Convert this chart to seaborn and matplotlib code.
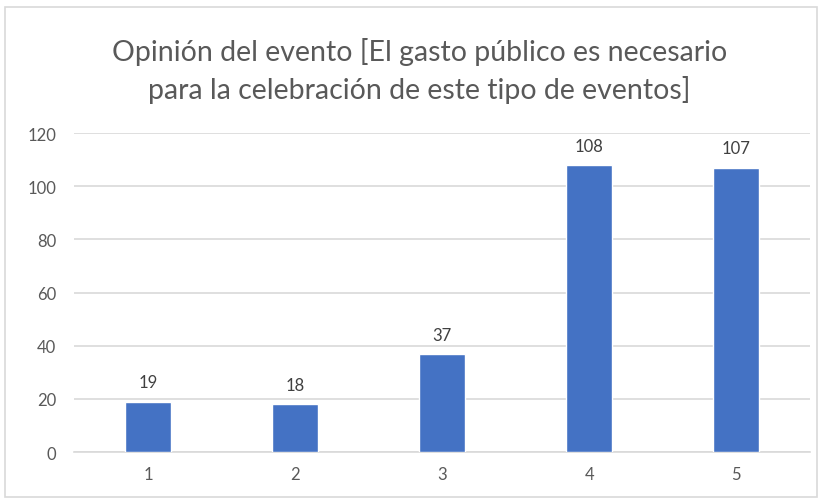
import matplotlib
matplotlib.use("Agg")
import matplotlib.pyplot as plt
import seaborn as sns
import pandas as pd
from matplotlib.patches import Rectangle

categories = ["1", "2", "3", "4", "5"]
values = [19, 18, 37, 108, 107]
yticks = [0, 20, 40, 60, 80, 100, 120]
title = "Opinión del evento [El gasto público es necesario\npara la celebración de este tipo de eventos]"

sns.set_theme(style="white")
plt.rcParams['font.family'] = ['Lato', 'DejaVu Sans']

df = pd.DataFrame({"cat": categories, "val": values})

fig = plt.figure(figsize=(8.22, 5.02), dpi=100)
ax = fig.add_axes([0.0906, 0.0976, 0.985 - 0.0906, 0.733 - 0.0976])

sns.barplot(data=df, x="cat", y="val", order=categories, color="#4472C4",
            saturation=1, width=0.31, ax=ax, zorder=3)

ax.set_ylim(0, 120)
ax.set_yticks(yticks)
ax.yaxis.grid(True, color="#d9d9d9", linewidth=1.2, zorder=0)
ax.set_axisbelow(True)
for s in ["top", "right", "left"]:
    ax.spines[s].set_visible(False)
ax.spines["bottom"].set_color("#d9d9d9")
ax.spines["bottom"].set_linewidth(1.2)
ax.tick_params(axis="both", length=0, labelsize=12, colors="#595959")
ax.tick_params(axis="y", pad=13)
ax.tick_params(axis="x", pad=10)
ax.set_xlabel("")
ax.set_ylabel("")

for c in ax.containers:
    ax.bar_label(c, labels=[str(v) for v in values], padding=8,
                 fontsize=12, color="#404040")

fig.text(0.51, 0.925, title, ha="center", va="top", fontsize=20.5,
         color="#595959", linespacing=1.45)

fig.patches.append(Rectangle((5/822, 4/502), 812/822, 490/502,
                             transform=fig.transFigure, fill=False,
                             edgecolor="#d9d9d9", linewidth=1.2))

fig.savefig("out.png", dpi=100)
